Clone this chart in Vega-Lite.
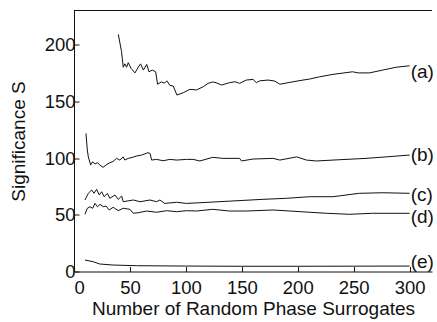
{
  "$schema": "https://vega.github.io/schema/vega-lite/v6.json",
  "width": 358,
  "height": 261,
  "autosize": {"type": "none"},
  "padding": {"left": 74, "top": 10.5, "right": 5, "bottom": 50},
  "background": "white",
  "config": {
    "view": {"stroke": null},
    "font": "Liberation Sans",
    "axis": {
      "grid": false,
      "domainColor": "#111",
      "tickColor": "#111",
      "labelColor": "#111",
      "titleColor": "#111",
      "labelFontSize": 18.5,
      "titleFontSize": 19,
      "titleFontWeight": "normal",
      "tickSize": -5,
      "domainWidth": 1,
      "tickWidth": 1
    }
  },
  "datasets": {
    "curves": [
      {"series": "a", "n": 39.6, "s": 209}, {"series": "a", "n": 42.5, "s": 193.7}, {"series": "a", "n": 44, "s": 180},
      {"series": "a", "n": 45.5, "s": 183}, {"series": "a", "n": 47, "s": 180}, {"series": "a", "n": 48.5, "s": 184},
      {"series": "a", "n": 51, "s": 179}, {"series": "a", "n": 54.5, "s": 175}, {"series": "a", "n": 57.4, "s": 180},
      {"series": "a", "n": 59.5, "s": 183}, {"series": "a", "n": 62, "s": 177.5}, {"series": "a", "n": 65, "s": 182.5},
      {"series": "a", "n": 67, "s": 176}, {"series": "a", "n": 70, "s": 177.5}, {"series": "a", "n": 73, "s": 176},
      {"series": "a", "n": 74.7, "s": 165}, {"series": "a", "n": 78, "s": 167}, {"series": "a", "n": 81, "s": 166},
      {"series": "a", "n": 83, "s": 168}, {"series": "a", "n": 85.7, "s": 164}, {"series": "a", "n": 88.7, "s": 163.4},
      {"series": "a", "n": 92, "s": 155.5}, {"series": "a", "n": 97.6, "s": 157.5}, {"series": "a", "n": 103.6, "s": 160.5},
      {"series": "a", "n": 109.5, "s": 160}, {"series": "a", "n": 115.5, "s": 162.8}, {"series": "a", "n": 119.9, "s": 165.8},
      {"series": "a", "n": 124, "s": 167}, {"series": "a", "n": 127, "s": 166.4}, {"series": "a", "n": 132, "s": 164.3},
      {"series": "a", "n": 139, "s": 166.4}, {"series": "a", "n": 144, "s": 167.2}, {"series": "a", "n": 148, "s": 165.8},
      {"series": "a", "n": 154, "s": 168.7}, {"series": "a", "n": 160, "s": 169.3}, {"series": "a", "n": 163, "s": 166.4},
      {"series": "a", "n": 166, "s": 168}, {"series": "a", "n": 173.5, "s": 168.7}, {"series": "a", "n": 179.5, "s": 167.8},
      {"series": "a", "n": 184, "s": 165}, {"series": "a", "n": 193, "s": 166.7}, {"series": "a", "n": 204.7, "s": 168.7},
      {"series": "a", "n": 210.7, "s": 169.6}, {"series": "a", "n": 219.6, "s": 171.6}, {"series": "a", "n": 231.5, "s": 173.7},
      {"series": "a", "n": 249, "s": 176}, {"series": "a", "n": 254, "s": 175}, {"series": "a", "n": 264, "s": 175},
      {"series": "a", "n": 276, "s": 177.5}, {"series": "a", "n": 288, "s": 180}, {"series": "a", "n": 300, "s": 181.3},

      {"series": "b", "n": 10.7, "s": 121.7}, {"series": "b", "n": 11.9, "s": 107}, {"series": "b", "n": 12.8, "s": 101},
      {"series": "b", "n": 14.9, "s": 93.8}, {"series": "b", "n": 16.7, "s": 96.7}, {"series": "b", "n": 18.75, "s": 94.7},
      {"series": "b", "n": 21, "s": 95.9}, {"series": "b", "n": 23, "s": 93.8}, {"series": "b", "n": 26, "s": 91.8},
      {"series": "b", "n": 28.6, "s": 93.8}, {"series": "b", "n": 32, "s": 95.9}, {"series": "b", "n": 35, "s": 97},
      {"series": "b", "n": 38, "s": 99.7}, {"series": "b", "n": 41, "s": 98.2}, {"series": "b", "n": 44, "s": 101},
      {"series": "b", "n": 45.5, "s": 98.2}, {"series": "b", "n": 48.5, "s": 99.7}, {"series": "b", "n": 52, "s": 100.5},
      {"series": "b", "n": 56, "s": 101.8}, {"series": "b", "n": 60.4, "s": 102.6}, {"series": "b", "n": 66, "s": 104.7},
      {"series": "b", "n": 68, "s": 104}, {"series": "b", "n": 69.4, "s": 98.2}, {"series": "b", "n": 73.8, "s": 98.8},
      {"series": "b", "n": 79.7, "s": 97.6}, {"series": "b", "n": 85.7, "s": 98.8}, {"series": "b", "n": 91.7, "s": 98.2},
      {"series": "b", "n": 100.6, "s": 98.8}, {"series": "b", "n": 106.5, "s": 98.8}, {"series": "b", "n": 112.5, "s": 97.4},
      {"series": "b", "n": 124, "s": 100.6}, {"series": "b", "n": 133, "s": 99.7}, {"series": "b", "n": 148, "s": 99.7},
      {"series": "b", "n": 149.7, "s": 97.4}, {"series": "b", "n": 160, "s": 99.1}, {"series": "b", "n": 178, "s": 99.7},
      {"series": "b", "n": 184, "s": 98.2}, {"series": "b", "n": 199, "s": 101}, {"series": "b", "n": 207.8, "s": 98.2},
      {"series": "b", "n": 216.7, "s": 97.4}, {"series": "b", "n": 231.5, "s": 98.2}, {"series": "b", "n": 261, "s": 99.7},
      {"series": "b", "n": 279, "s": 101}, {"series": "b", "n": 300, "s": 102.6},

      {"series": "c", "n": 9.8, "s": 63}, {"series": "c", "n": 12.8, "s": 68.9}, {"series": "c", "n": 15.8, "s": 71.8},
      {"series": "c", "n": 17.9, "s": 68.9}, {"series": "c", "n": 20.2, "s": 72.4}, {"series": "c", "n": 22.6, "s": 67.4},
      {"series": "c", "n": 24.7, "s": 70.3}, {"series": "c", "n": 27, "s": 65.9}, {"series": "c", "n": 29.8, "s": 68.9},
      {"series": "c", "n": 32, "s": 64.5}, {"series": "c", "n": 36.6, "s": 67.4}, {"series": "c", "n": 39.6, "s": 63.6},
      {"series": "c", "n": 42.6, "s": 66.5}, {"series": "c", "n": 44, "s": 61.5}, {"series": "c", "n": 53, "s": 63},
      {"series": "c", "n": 59, "s": 61.5}, {"series": "c", "n": 67.9, "s": 63}, {"series": "c", "n": 73.8, "s": 61.5},
      {"series": "c", "n": 76.8, "s": 63}, {"series": "c", "n": 81, "s": 60}, {"series": "c", "n": 91.7, "s": 61},
      {"series": "c", "n": 100.6, "s": 60}, {"series": "c", "n": 112.5, "s": 60.6}, {"series": "c", "n": 139, "s": 62},
      {"series": "c", "n": 169, "s": 63.6}, {"series": "c", "n": 190, "s": 64.5}, {"series": "c", "n": 210.7, "s": 65.9},
      {"series": "c", "n": 231.5, "s": 65.9}, {"series": "c", "n": 255, "s": 68.9}, {"series": "c", "n": 276, "s": 69.4},
      {"series": "c", "n": 300, "s": 68.9},

      {"series": "d", "n": 9.8, "s": 50.4}, {"series": "d", "n": 11.9, "s": 55.7}, {"series": "d", "n": 14.3, "s": 57.1},
      {"series": "d", "n": 16.7, "s": 55.7}, {"series": "d", "n": 18.75, "s": 60}, {"series": "d", "n": 21, "s": 57.1},
      {"series": "d", "n": 23.2, "s": 59.2}, {"series": "d", "n": 26.2, "s": 57.1}, {"series": "d", "n": 28.6, "s": 57.7},
      {"series": "d", "n": 31.5, "s": 54.2}, {"series": "d", "n": 35, "s": 56.6}, {"series": "d", "n": 39.6, "s": 53.6},
      {"series": "d", "n": 44, "s": 55.7}, {"series": "d", "n": 50, "s": 54.8}, {"series": "d", "n": 53, "s": 51.3},
      {"series": "d", "n": 57.4, "s": 51.8}, {"series": "d", "n": 65, "s": 53.3}, {"series": "d", "n": 73.8, "s": 52.2},
      {"series": "d", "n": 82.8, "s": 53.6}, {"series": "d", "n": 91.7, "s": 52.7}, {"series": "d", "n": 100.6, "s": 53.6},
      {"series": "d", "n": 109.5, "s": 53.3}, {"series": "d", "n": 124, "s": 54.8}, {"series": "d", "n": 139, "s": 53.3},
      {"series": "d", "n": 154, "s": 53.3}, {"series": "d", "n": 178, "s": 54.2}, {"series": "d", "n": 193, "s": 53.3},
      {"series": "d", "n": 210.7, "s": 52.2}, {"series": "d", "n": 225.6, "s": 51.3}, {"series": "d", "n": 246.4, "s": 50.4},
      {"series": "d", "n": 267, "s": 51.3}, {"series": "d", "n": 300, "s": 51.3},

      {"series": "e", "n": 9.8, "s": 10.1}, {"series": "e", "n": 17.2, "s": 8.6}, {"series": "e", "n": 23, "s": 6.6},
      {"series": "e", "n": 35, "s": 5.7}, {"series": "e", "n": 56, "s": 5.1}, {"series": "e", "n": 100, "s": 4.8},
      {"series": "e", "n": 150, "s": 4.6}, {"series": "e", "n": 200, "s": 4.6}, {"series": "e", "n": 250, "s": 4.7},
      {"series": "e", "n": 300, "s": 4.8}
    ],
    "labels": [
      {"label": "(a)", "n": 300, "s": 176},
      {"label": "(b)", "n": 300, "s": 102.6},
      {"label": "(c)", "n": 300, "s": 67.4},
      {"label": "(d)", "n": 300, "s": 48},
      {"label": "(e)", "n": 300, "s": 8}
    ]
  },
  "layer": [
    {
      "data": {"name": "curves"},
      "mark": {"type": "line", "color": "#111", "strokeWidth": 1},
      "encoding": {
        "x": {
          "field": "n", "type": "quantitative",
          "scale": {"domain": [0, 320], "nice": false, "zero": false},
          "axis": {"values": [0, 50, 100, 150, 200, 250, 300], "title": "Number of Random Phase Surrogates", "labelPadding": 12, "titlePadding": 2}
        },
        "y": {
          "field": "s", "type": "quantitative",
          "scale": {"domain": [0, 230], "nice": false},
          "axis": {"values": [0, 50, 100, 150, 200], "title": "Significance S", "labelPadding": 4, "titlePadding": 16}
        },
        "detail": {"field": "series"}
      }
    },
    {
      "data": {"name": "labels"},
      "mark": {"type": "text", "align": "left", "baseline": "middle", "dx": 1, "fontSize": 19, "color": "#111"},
      "encoding": {
        "x": {"field": "n", "type": "quantitative"},
        "y": {"field": "s", "type": "quantitative"},
        "text": {"field": "label"}
      }
    },
    {
      "data": {"values": [{"top": 230}]},
      "mark": {"type": "rule", "color": "#111", "strokeWidth": 1},
      "encoding": {"y": {"field": "top", "type": "quantitative"}}
    }
  ]
}
